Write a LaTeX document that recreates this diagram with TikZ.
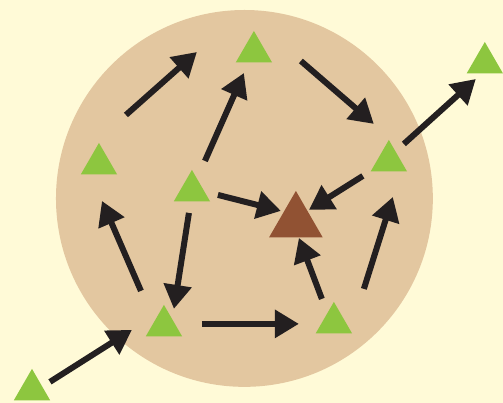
\documentclass[tikz,border=0pt]{standalone}
\usetikzlibrary{shapes.geometric,arrows.meta,calc}
\definecolor{paper}{RGB}{255,250,215}
\definecolor{cell}{RGB}{227,199,160}
\definecolor{leaf}{RGB}{141,198,63}
\definecolor{bark}{RGB}{145,82,51}
\definecolor{ink}{RGB}{35,31,32}
\tikzset{tri/.style={regular polygon, regular polygon sides=3, fill=leaf,
    inner sep=0pt, minimum size=42pt},
  arr/.style={draw=ink, line width=6pt, -{Triangle[length=24pt,width=27pt]}}}
\begin{document}
\begin{tikzpicture}[x=1pt,y=-1pt]
  \fill[paper] (0,0) rectangle (503,403);
  \fill[cell] (244.5,198.5) circle (188.5);
  % triangles
  \node[tri] (t) at (254,52) {};
  \node[tri] (fr) at (485,63) {};
  \node[tri] (l) at (99,164) {};
  \node[tri] (ml) at (192,191) {};
  \node[tri] (r) at (389,161) {};
  \node[tri, fill=bark, minimum size=62pt] (b) at (296,222) {};
  \node[tri] (bl) at (164,326) {};
  \node[tri] (br) at (334,323) {};
  \node[tri] (fbl) at (32,390) {};
  % arrows
  \draw[arr] ($(l)+(27,-49)$) -- ($(t)+(-57,0)$);
  \draw[arr] ($(t)+(47,9)$) -- ($(r)+(-15,-37)$);
  \draw[arr] ($(ml)+(13,-30)$) -- ($(t)+(-10,21)$);
  \draw[arr] ($(ml)+(26,4)$) -- ($(b)+(-15,-11)$);
  \draw[arr] ($(r)+(-26,15)$) -- ($(b)+(13,-12)$);
  \draw[arr] ($(r)+(15,-17)$) -- ($(fr)+(-9,16)$);
  \draw[arr] ($(bl)+(-23,-35)$) -- ($(l)+(3,37)$);
  \draw[arr] ($(ml)+(-3,22)$) -- ($(bl)+(10,-17)$);
  \draw[arr] ($(bl)+(38,-2)$) -- ($(br)+(-35,1)$);
  \draw[arr] ($(br)+(-12,-24)$) -- ($(b)+(3,16)$);
  \draw[arr] ($(br)+(30,-34)$) -- ($(r)+(4,36)$);
  \draw[arr] ($(fbl)+(18,-8)$) -- ($(bl)+(-32,4)$);
\end{tikzpicture}
\end{document}
